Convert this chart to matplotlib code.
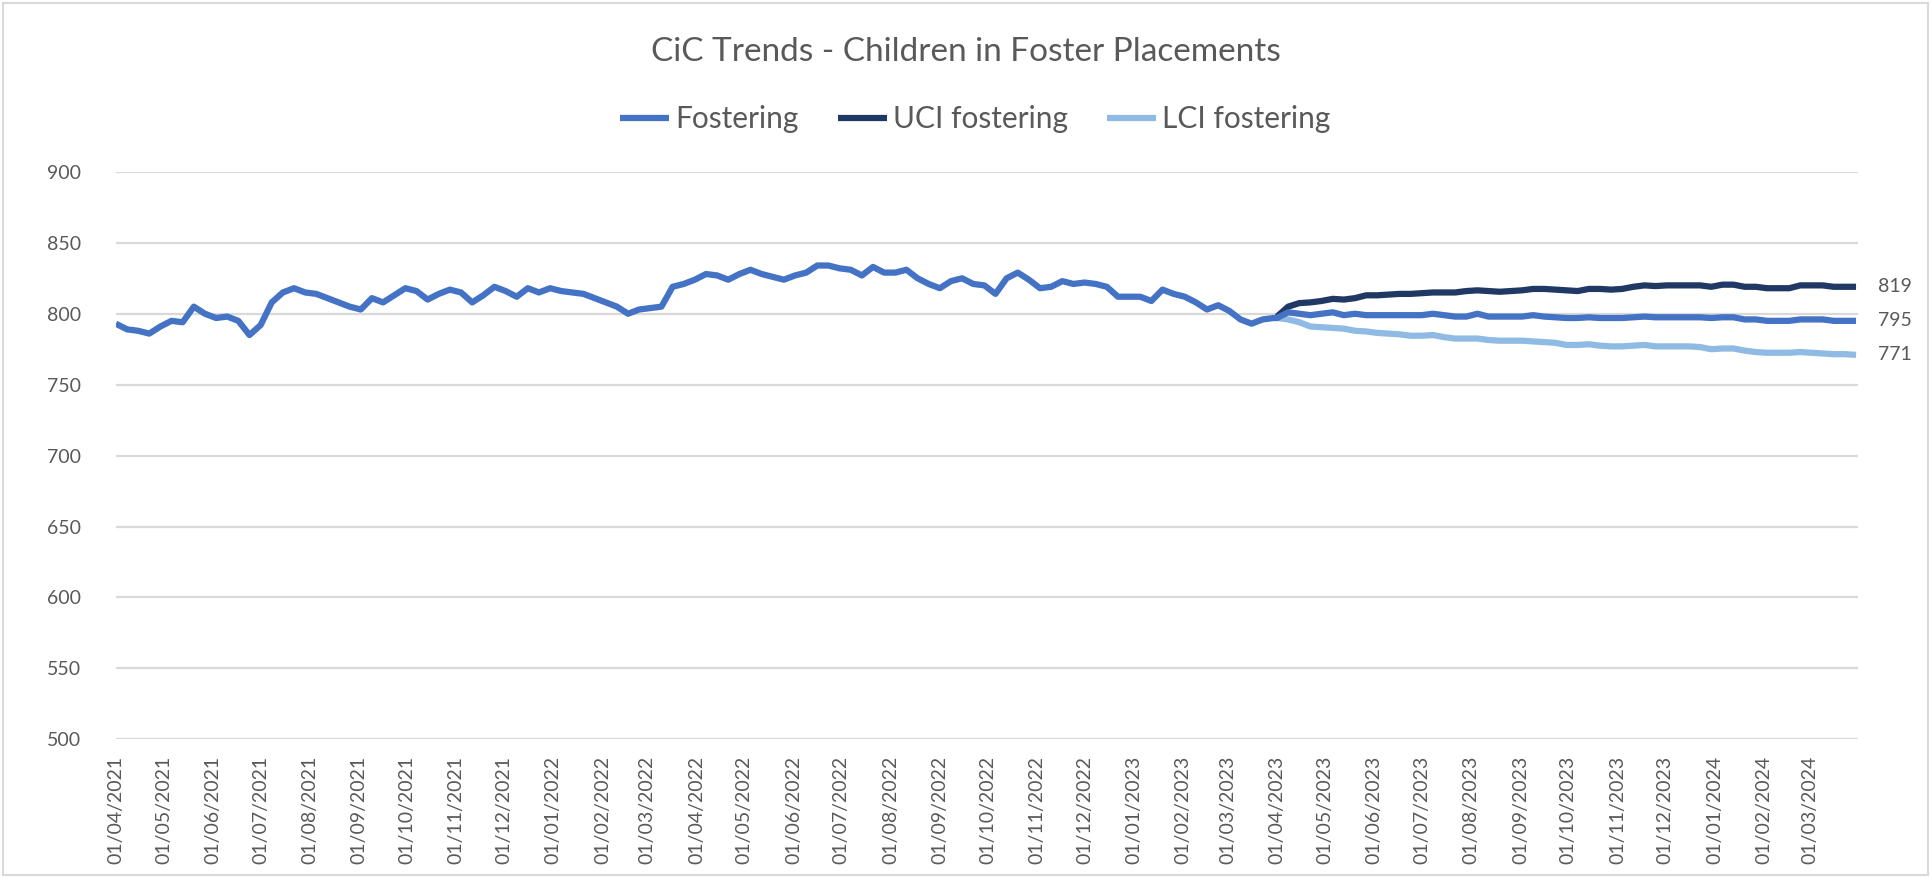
import matplotlib
matplotlib.use("Agg")
import matplotlib.pyplot as plt
import matplotlib.dates as mdates
import matplotlib.patches as patches
import pandas as pd
import numpy as np

# weekly readings, 01/04/2021 -> 30/03/2023
fostering_hist = [793, 789, 788, 786, 791, 795, 794, 805, 800, 797,
                  798, 795, 785, 792, 808, 815, 818, 815, 814, 811,
                  808, 805, 803, 811, 808, 813, 818, 816, 810, 814,
                  817, 815, 808, 813, 819, 816, 812, 818, 815, 818,
                  816, 815, 814, 811, 808, 805, 800, 803, 804, 805,
                  819, 821, 824, 828, 827, 824, 828, 831, 828, 826,
                  824, 827, 829, 834, 834, 832, 831, 827, 833, 829,
                  829, 831, 825, 821, 818, 823, 825, 821, 820, 814,
                  825, 829, 824, 818, 819, 823, 821, 822, 821, 819,
                  812, 812, 812, 809, 817, 814, 812, 808, 803, 806,
                  802, 796, 793, 796, 797]

# weekly forecast, 01/04/2023 -> 30/03/2024
fostering_fc = [797, 801, 800, 799, 800, 801, 799, 800, 799, 799,
                799, 799, 799, 799, 800, 799, 798, 798, 800, 798,
                798, 798, 798, 799, 798, 797.5, 797, 797, 797.5, 797,
                797, 797, 797.5, 798, 797.5, 797.5, 797.5, 797.5, 797.5, 797,
                797.5, 797.5, 796, 796, 795, 795, 795, 796, 796, 796,
                795, 795, 795]
uci_fc = [798, 805, 807.5, 808, 809, 810.5, 810, 811, 813, 813,
          813.5, 814, 814, 814.5, 815, 815, 815, 816, 816.5, 816,
          815.5, 816, 816.5, 817.5, 817.5, 817, 816.5, 816, 817.5, 817.5,
          817, 817.5, 819, 820, 819.5, 820, 820, 820, 820, 819,
          820.5, 820.5, 819, 819, 818, 818, 818, 820, 820, 820,
          819, 819, 819]
lci_fc = [797, 796, 794, 791, 790.5, 790, 789.5, 788, 787.5, 786.5,
          786, 785.5, 784.5, 784.5, 785, 783.5, 782.5, 782.5, 782.5, 781.5,
          781, 781, 781, 780.5, 780, 779.5, 778, 778, 778.5, 777.5,
          777, 777, 777.5, 778, 777, 777, 777, 777, 776.5, 775,
          775.5, 775.5, 774, 773, 772.5, 772.5, 772.5, 773, 772.5, 772,
          771.5, 771.5, 771]

series_names = ["Fostering", "UCI fostering", "LCI fostering"]
series_colors = ["#4472C4", "#203864", "#8FBAE3"]

hist_dates = pd.date_range("2021-04-01", periods=len(fostering_hist), freq="7D")
fc_dates = pd.date_range("2023-04-01", periods=len(fostering_fc), freq="7D")

fostering_dates = hist_dates.append(fc_dates)
fostering = fostering_hist + fostering_fc

text_color = "#595959"
grid_color = "#D9D9D9"
plt.rcParams["font.family"] = ["Lato", "DejaVu Sans"]

fig = plt.figure(figsize=(19.31, 8.77), dpi=100)
ax = fig.add_axes([0.060, 0.157, 0.902, 0.647])

lw = 4.5
ax.plot(fostering_dates, fostering, color=series_colors[0], lw=lw,
        label=series_names[0], zorder=3, solid_capstyle="butt")
ax.plot(fc_dates, uci_fc, color=series_colors[1], lw=lw,
        label=series_names[1], zorder=2, solid_capstyle="butt")
ax.plot(fc_dates, lci_fc, color=series_colors[2], lw=lw,
        label=series_names[2], zorder=2, solid_capstyle="butt")

# end labels
for vals in [uci_fc, fostering_fc, lci_fc]:
    ax.annotate(f"{vals[-1]:.0f}", xy=(fc_dates[-1], vals[-1]),
                xytext=(16, 0), textcoords="offset points",
                va="center", ha="left", fontsize=14, color=text_color,
                annotation_clip=False)

# axes formatting
ax.set_ylim(500, 900)
ax.set_yticks(np.arange(500, 901, 50))
ax.set_xlim(pd.Timestamp("2021-04-01"), pd.Timestamp("2024-03-31"))
ax.xaxis.set_major_locator(mdates.MonthLocator(bymonthday=1))
ax.xaxis.set_major_formatter(mdates.DateFormatter("%d/%m/%Y"))
ax.tick_params(axis="x", rotation=90, length=0, pad=12, labelsize=14,
               labelcolor=text_color)
ax.tick_params(axis="y", length=0, pad=25, labelsize=14, labelcolor=text_color)
ax.grid(axis="y", color=grid_color, lw=1.6)
ax.set_axisbelow(True)
for s in ax.spines.values():
    s.set_visible(False)

fig.suptitle("CiC Trends - Children in Foster Placements", y=0.941, va="center",
             fontsize=24, color=text_color)
fig.legend(loc="center", bbox_to_anchor=(0.505, 0.864), ncol=3,
           frameon=False, fontsize=21.5, labelcolor=text_color,
           handlelength=1.65, handletextpad=0.2, columnspacing=1.3)

# chart border
fig.patches.append(patches.Rectangle((0.0015, 0.002), 0.997, 0.995,
                                     transform=fig.transFigure, fill=False,
                                     edgecolor=grid_color, lw=1.5))

fig.savefig("out.png", dpi=100)
